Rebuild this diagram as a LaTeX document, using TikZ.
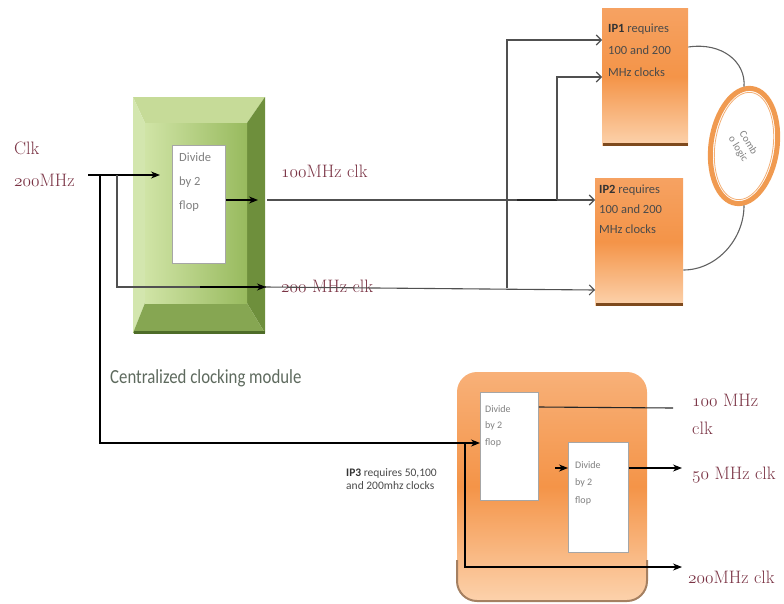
\documentclass[tikz,border=0pt]{standalone}
\usepackage{fontspec}
\usepackage{graphicx}
\newfontfamily\calfont{Carlito}
\usetikzlibrary{arrows.meta,shapes.geometric}
\newcommand\osn[1]{\ensuremath{\mathnormal{#1}}}
\definecolor{clkred}{HTML}{7A3344}
\definecolor{wirec}{HTML}{505050}
\definecolor{gtopc}{HTML}{C6DB98}
\definecolor{gleftc}{HTML}{D3E6AE}
\definecolor{grightc}{HTML}{6E8F3C}
\definecolor{gbotc}{HTML}{86A652}
\definecolor{gfaceL}{HTML}{D0E4A6}
\definecolor{gfaceR}{HTML}{98BA5E}
\definecolor{gdark}{HTML}{4E6C28}
\definecolor{capgrey}{HTML}{5E6A5E}
\definecolor{orgtop}{HTML}{F6A262}
\definecolor{orgmid}{HTML}{F49448}
\definecolor{orgbot}{HTML}{FCD2AC}
\definecolor{orgedge}{HTML}{7E4A1E}
\definecolor{ringc}{HTML}{F09A50}
\definecolor{txtgrey}{HTML}{4A4A4A}
\definecolor{lightgrey}{HTML}{808080}
\tikzset{
  wire/.style={draw=wirec, line width=1.1pt},
  blk/.style={wire, -{Stealth[length=9pt,width=7pt]}, draw=black},
  opn/.style={wire, -{Straight Barb[length=5pt,width=10pt]}},
  clklbl/.style={text=clkred, inner sep=0pt, anchor=west,
    font=\fontsize{18}{20}\selectfont},
  ipbox/.style={anchor=north west, inner sep=0pt, top color=orgtop, bottom color=orgbot, middle color=orgmid},
  ipedge/.style={draw=orgedge, line width=3pt},
  iptext/.style={anchor=north west, inner sep=0pt, align=left, text=txtgrey},
  divbox/.style={anchor=north west, inner sep=0pt, draw=gray!70, fill=white, line width=0.8pt},
  divtext/.style={anchor=north west, inner sep=0pt, align=left, text=lightgrey}
}
\begin{document}
\begin{tikzpicture}[x=1pt,y=-1pt]
\useasboundingbox (0,0) rectangle (784,603);
% ---------- centralized clocking module (green bevel) ----------
\fill[gtopc] (133,97) -- (265,97) -- (247,123) -- (145,123) -- cycle;
\fill[gleftc] (133,97) -- (145,123) -- (145,303) -- (133,333) -- cycle;
\fill[grightc] (265,97) -- (265,333) -- (247,303) -- (247,123) -- cycle;
\fill[gbotc] (133,333) -- (145,303) -- (247,303) -- (265,333) -- cycle;
\shade[left color=gfaceL, right color=gfaceR] (145,123) rectangle (247,303);
\draw[gdark, line width=3pt] (134,332) -- (265,332);
\node[anchor=north west, inner sep=0pt, minimum width=132pt, minimum height=236pt] (gbox) at (133,97) {};
\node[divbox, minimum width=53pt, minimum height=118pt] (div) at (172,145) {};
\node[divtext, font=\calfont\fontsize{12.5}{24}\selectfont] (divt) at (179,153) {Divide\\by 2\\flop};
\node[anchor=west, inner sep=0pt, text=capgrey, font=\calfont\fontsize{20}{22}\selectfont] (cap) at (110,378) {\scalebox{0.84}[1]{Centralized clocking module}};

% ---------- IP1 / IP2 ----------
\node[ipbox, minimum width=86pt, minimum height=137pt] (ip1) at (602,8) {};
\draw[ipedge] (603,144) -- (688,144);
\node[iptext, font=\calfont\fontsize{12.5}{22}\selectfont] (ip1t) at (608,24) {\textbf{\color{black!80}IP1} requires\\100 and 200\\MHz clocks};
\node[ipbox, minimum width=88pt, minimum height=127pt] (ip2) at (595,178) {};
\draw[ipedge] (596,304) -- (683,304);
\node[iptext, font=\calfont\fontsize{12.5}{20}\selectfont] (ip2t) at (599,185) {\textbf{\color{black!80}IP2} requires\\100 and 200\\MHz clocks};

% ---------- comb logic ----------
\node[ellipse, draw=ringc, line width=5pt, fill=white, minimum width=66pt, minimum height=116pt, rotate=-8] (comb) at (744,146) {};
\node[ellipse, draw=ringc!80, line width=0.8pt, minimum width=58pt, minimum height=108pt, rotate=-8] (combin) at (744,146) {};
\node[rotate=-58, align=center, text=gray, font=\calfont\fontsize{10.5}{12}\selectfont] (combt) at (743,146) {Comb\\o logic};
\draw[wire, draw=wirec!90] (ip1.north east |- 0,47) .. controls (722,42) and (746,62) .. (comb.98);
\draw[wire, draw=wirec!90] (comb.-82) .. controls (744,240) and (716,270) .. (ip2.north east |- 0,270);

% ---------- IP3 ----------
\shade[rounded corners=20pt, top color=orgtop!70!orgbot, bottom color=orgbot, middle color=orgmid] (457,372) rectangle (647,601);
\draw[orgedge!70, line width=2pt, rounded corners=20pt] (457,560) -- (457,601) -- (647,601) -- (647,560);
\node[anchor=north west, inner sep=0pt, minimum width=190pt, minimum height=229pt] (ip3) at (457,372) {};
\node[divbox, minimum width=58pt, minimum height=108pt] (d31) at (480,392) {};
\node[divtext, font=\calfont\fontsize{10}{16.5}\selectfont] (d31t) at (485,405) {Divide\\by 2\\flop};
\node[divbox, minimum width=60pt, minimum height=110pt] (d32) at (568,442) {};
\node[divtext, font=\calfont\fontsize{10}{17.5}\selectfont] (d32t) at (575,461) {Divide\\by 2\\flop};
\node[anchor=north west, inner sep=0pt, align=left, text=txtgrey, font=\calfont\fontsize{11.5}{13}\selectfont] (ip3t) at (346,468) {\textbf{\color{black!80}IP3} requires 50,100\\and 200mhz clocks};

% ---------- labels ----------
\node[clklbl] (lclk) at (14,148) {Clk};
\node[clklbl] (l200in) at (14,180) {\osn{200}MHz};
\node[clklbl] (l100) at (281,171) {\osn{100}MHz clk};
\node[clklbl] (l200) at (281,286) {\osn{200} MHz clk};
\node[clklbl, align=left, font=\fontsize{18}{28}\selectfont] (o100) at (692,414) {\osn{100} MHz\\clk};
\node[clklbl] (o50) at (692,475) {\osn{50} MHz clk};
\node[clklbl] (o200) at (688,577) {\osn{200}MHz clk};

% ---------- connectors ----------
\coordinate (cin) at (88,175);
\coordinate (j1) at (100,175);
\coordinate (j2) at (117,175);
\coordinate (tin) at (160,175);
\coordinate (a200) at (266,287);
\coordinate (o100c) at (258,200);
\coordinate (s100) at (267,200);
\coordinate (v1) at (507,288);
\coordinate (t1) at (517,200);
\coordinate (t2) at (557,200);

\draw[blk] (cin) -- (tin);
\draw[blk] (j1) |- (d31.west |- 0,443);
\draw[wire] (j2) |- (a200);
\draw[blk] (a200 -| 200,0) -- (a200);
\draw[opn] (a200) -- (ip2.west |- 0,290);
\draw[blk] (div.east |- o100c) -- (o100c);
\draw[opn] (s100) -- (ip2.west |- s100);
\draw[opn] (v1) |- (ip1.west |- 0,40);
\draw[wire, line width=2.4pt, draw=black!85] (t1) -- (t2);
\draw[opn] (t2) |- (ip1.west |- 0,77);

% IP3 internal
\coordinate (v3) at (465,443);
\coordinate (q1) at (555,468);
\draw[wire, draw=black!85] (d31.east |- 0,407) -- (673,408);
\draw[blk] (q1) -- (d32.west |- q1);
\draw[blk] (d32.east |- q1) -- (682,468);
\draw[blk] (v3) |- (682,567);
\end{tikzpicture}
\end{document}
